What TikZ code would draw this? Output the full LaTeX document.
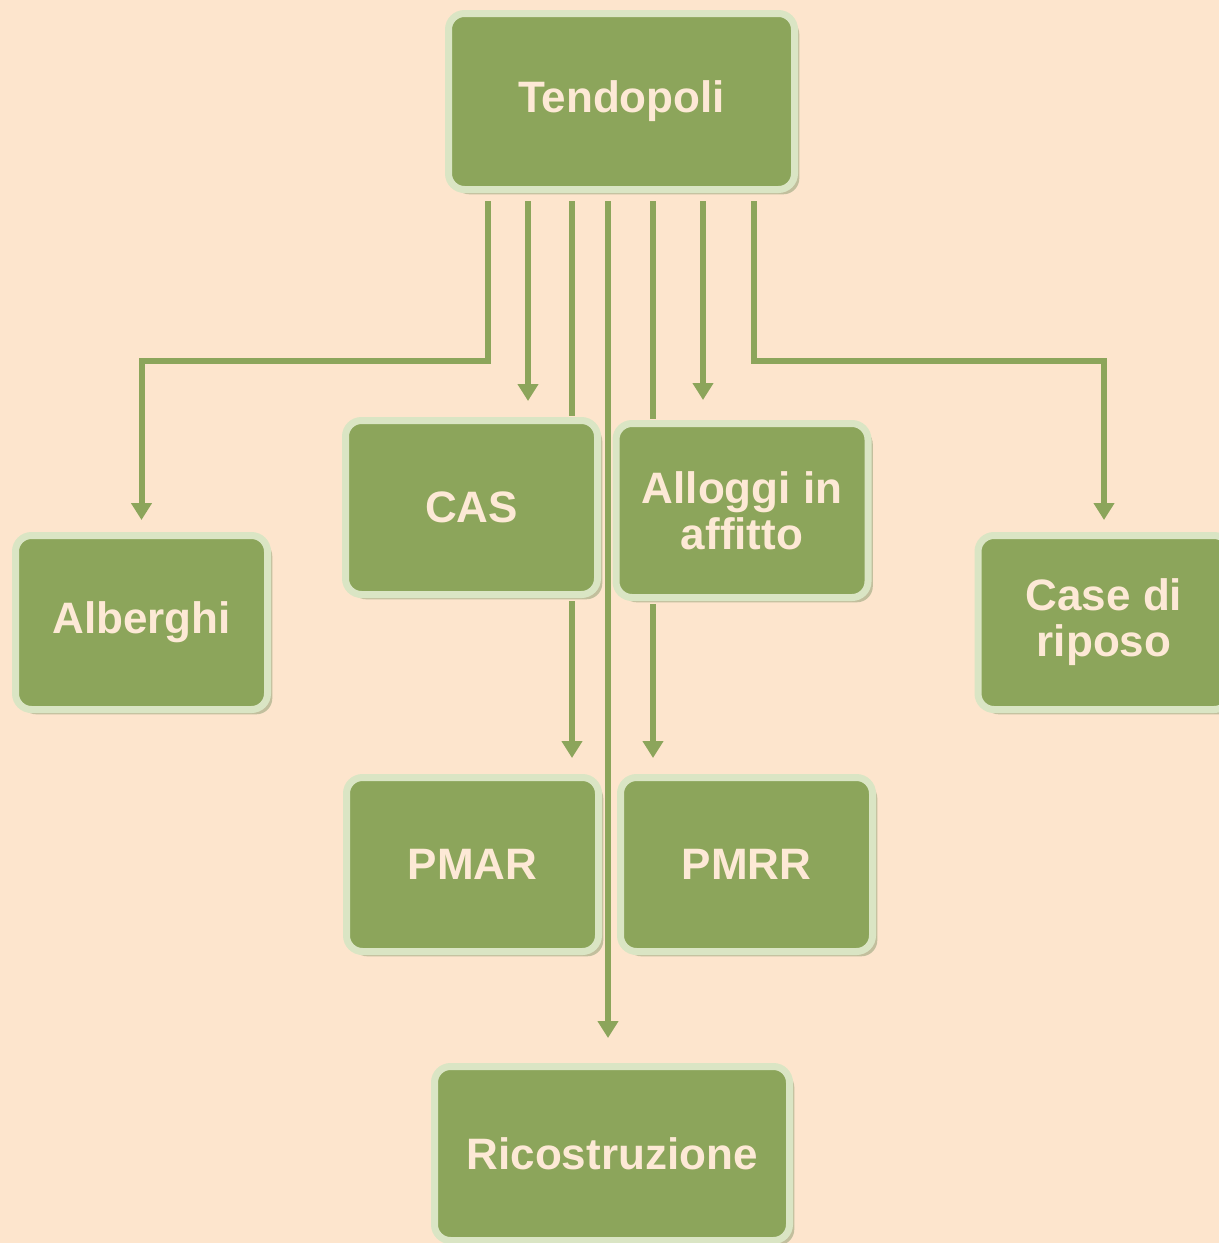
\documentclass[tikz,border=0pt]{standalone}
\usepackage{fontspec}
\setmainfont{Liberation Sans}
\usepackage{tikz}
\usetikzlibrary{arrows.meta,shadows}
\definecolor{peach}{HTML}{FDE5CD}
\definecolor{olive}{HTML}{8CA55B}
\definecolor{sage}{HTML}{DAE5C4}
\definecolor{cream}{HTML}{FDE9D6}
\definecolor{shade}{HTML}{A9B08A}

\begin{document}
\begin{tikzpicture}[x=0.5pt, y=-0.5pt, >={Triangle[width=10pt,length=8.5pt]},
	box/.style={draw=sage, line width=3.5pt, fill=olive, rounded corners=8pt, text=cream, font=\bfseries\fontsize{22}{23}\selectfont, align=center, inner sep=0pt, minimum width=126pt, minimum height=87pt, drop shadow={shadow xshift=2.4pt, shadow yshift=-2.4pt, fill=shade, opacity=0.7}},
	link/.style={draw=olive, line width=3pt}]
		\useasboundingbox (0,0) rectangle (1219,1243);
		\fill [peach] (0,0) rectangle (1219,1243);
%		\draw [help lines] (0,0) grid (1219,1243);
		\node [box, minimum width=173pt, minimum height=88pt] (tend) at (621.5,101.5) {Tendopoli};
		\node [box] (alb) at (141.5,622.5) {Alberghi};
		\node [box] (cas) at (471.5,507.5) {CAS};
		\node [box] (allo) at (742,510.5) {Alloggi in\\affitto};
		\node [box] (case) at (1104,622.5) {Case di\\riposo};
		\node [box] (pmar) at (472.5,864.5) {PMAR};
		\node [box] (pmrr) at (746.5,864.5) {PMRR};
		\node [box, minimum width=177.5pt] (ric) at (612,1153.5) {Ricostruzione};
		\draw [link, ->, shorten <=4pt, shorten >=6pt] (tend.south -| 488,0) -- (488,361) -| (alb.north);
		\draw [link, ->, shorten <=4pt, shorten >=8pt] (tend.south -| 528,0) -- (cas.north -| 528,0);
		\draw [link, shorten <=4pt, shorten >=0.5pt] (tend.south -| 572,0) -- (cas.north -| 572,0);
		\draw [link, ->, shorten <=1.5pt, shorten >=8pt] (cas.south -| 572,0) -- (pmar.north -| 572,0);
		\draw [link, ->, shorten <=4pt, shorten >=12.5pt] (tend.south -| 608,0) -- (ric.north -| 608,0);
		\draw [link, shorten <=4pt, shorten >=0.5pt] (tend.south -| 653,0) -- (allo.north -| 653,0);
		\draw [link, ->, shorten <=1.5pt, shorten >=8pt] (allo.south -| 653,0) -- (pmrr.north -| 653,0);
		\draw [link, ->, shorten <=4pt, shorten >=10pt] (tend.south -| 703,0) -- (allo.north -| 703,0);
		\draw [link, ->, shorten <=4pt, shorten >=6pt] (tend.south -| 754,0) -- (754,361) -| (case.north);
\end{tikzpicture}
\end{document}
